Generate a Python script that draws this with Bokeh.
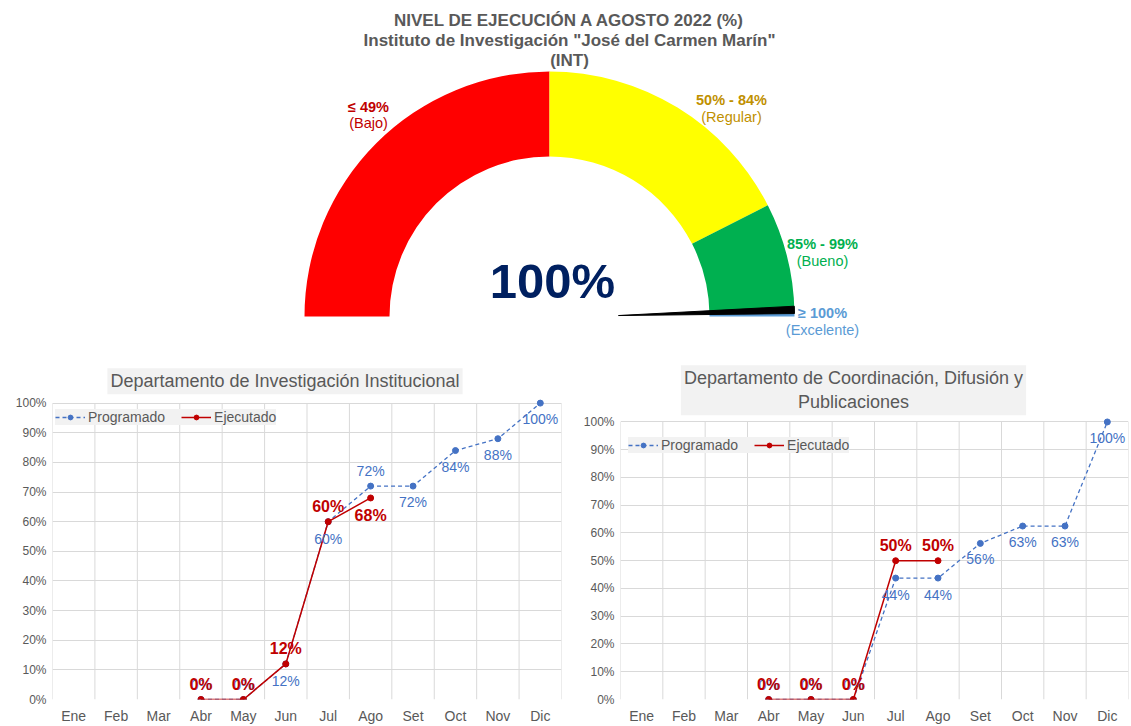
import numpy as np
from bokeh.plotting import figure
from bokeh.models import Range1d, FixedTicker, ColumnDataSource, Label
from bokeh.layouts import column, row
from bokeh.core.properties import value
from bokeh.embed import file_html
from bokeh.resources import INLINE

nan = float("nan")

# ---------------- data ----------------
months = ["Ene", "Feb", "Mar", "Abr", "May", "Jun", "Jul", "Ago", "Set", "Oct", "Nov", "Dic"]

inv_programado = [nan, nan, nan, 0, 0, 12, 60, 72, 72, 84, 88, 100]
inv_ejecutado = [nan, nan, nan, 0, 0, 12, 60, 68, nan, nan, nan, nan]

dif_programado = [nan, nan, nan, 0, 0, 0, 43.75, 43.75, 56.25, 62.5, 62.5, 100]
dif_ejecutado = [nan, nan, nan, 0, 0, 0, 50, 50, nan, nan, nan, nan]

gauge_bounds = [0, 50, 85, 99.6, 100]
gauge_colors = ["#FF0000", "#FFFF00", "#00B050", "#5B9BD5"]
gauge_range_labels = ["≤ 49%", "50% - 84%", "85% - 99%", "≥ 100%"]
gauge_range_names = ["(Bajo)", "(Regular)", "(Bueno)", "(Excelente)"]
gauge_label_colors = ["#C00000", "#BF9000", "#00B050", "#5B9BD5"]
kpi_value = 100

title_lines = ["NIVEL DE EJECUCIÓN A AGOSTO 2022 (%)",
               "Instituto de Investigación \"José del Carmen Marín\"",
               "(INT)"]
title_inv = "Departamento de Investigación Institucional"
title_dif = "Departamento de Coordinación, Difusión y\nPublicaciones"

FONT = "Liberation Sans"
GRAY = "#595959"
BLUE = "#4472C4"
RED = "#C00000"
GRID = "#D9D9D9"

# ---------------- gauge ----------------
GW, GH = 1131, 353
g = figure(width=GW, height=GH, x_range=Range1d(0, GW), y_range=Range1d(0, GH),
           output_backend="svg", toolbar_location=None, min_border=0, title=None)
g.axis.visible = False
g.grid.visible = False
g.outline_line_color = None

cx, cy = 549, 37
r_out, r_in = 245, 160


def ang(v):
    return np.pi * (1 - v / 100.0)


starts = [ang(b) for b in gauge_bounds[1:]]
ends = [ang(b) for b in gauge_bounds[:-1]]
g.annular_wedge(x=cx, y=cy, inner_radius=r_in, outer_radius=r_out,
                start_angle=starts, end_angle=ends, color=gauge_colors,
                line_color=None)

# needle
a0 = ang(kpi_value)
tip_r = 69
nx = [cx + tip_r * np.cos(a0 + 0.014), cx + r_out * np.cos(a0 + 0.012),
      cx + r_out * np.cos(a0 + 0.042)]
ny = [cy + tip_r * np.sin(a0 + 0.014), cy + r_out * np.sin(a0 + 0.012),
      cy + r_out * np.sin(a0 + 0.042)]
g.patch(x=nx, y=ny, fill_color="black", line_color="black", line_width=1)

# titles
g.text(x=[569, 569, 569], y=[333, 313, 293], text=title_lines,
       text_font=value(FONT), text_font_style="bold", text_font_size="17px",
       text_color=GRAY, text_align="center", text_baseline="middle")

# range labels
lx = [368, 731, 822, 822]
ly_top = [247, 254, 110, 41]
ly_bot = [231, 237, 93, 24]
g.text(x=lx, y=ly_top, text=gauge_range_labels, text_font=value(FONT),
       text_font_style="bold", text_font_size="14.5px", text_color=gauge_label_colors,
       text_align="center", text_baseline="middle")
g.text(x=lx, y=ly_bot, text=gauge_range_names, text_font=value(FONT),
       text_font_size="14.5px", text_color=gauge_label_colors,
       text_align="center", text_baseline="middle")

g.text(x=[552], y=[73], text=[f"{kpi_value}%"], text_font=value(FONT),
       text_font_style="bold", text_font_size="49px", text_color="#002060",
       text_align="center", text_baseline="middle")

# ---------------- line charts ----------------
LOWER_TOP = GH            # page y where lower charts start
LOWER_H = 726 - GH
FRAME_TOP = 360           # page y of frame top (both charts)
FRAME_BOTTOM = 702        # page y of 0%
FRAME_PX = FRAME_BOTTOM - FRAME_TOP


def pct(v):
    # Excel-style rounding (half up)
    return f"{int(np.floor(v + 0.5))}%"


def line_chart(title, prog, ejec, width, border_left, border_right, top100_px,
               title_px, title_dx, prog_off, ejec_off, legend_loc):
    ymax = 100.0 * FRAME_PX / (FRAME_BOTTOM - top100_px)
    p = figure(width=width, height=LOWER_H, x_range=Range1d(0.5, 12.5),
               y_range=Range1d(0, ymax), output_backend="svg",
               toolbar_location=None, min_border_left=border_left,
               min_border_right=border_right, min_border_top=FRAME_TOP - LOWER_TOP,
               min_border_bottom=726 - FRAME_BOTTOM, title=None)
    p.outline_line_color = None

    x = list(range(1, 13))
    p.xaxis.ticker = FixedTicker(ticks=x)
    p.xaxis.major_label_overrides = {i + 1: m for i, m in enumerate(months)}
    yt = list(range(0, 101, 10))
    p.yaxis.ticker = FixedTicker(ticks=yt)
    p.yaxis.major_label_overrides = {v: f"{v}%" for v in yt}
    for ax in (p.xaxis, p.yaxis):
        ax.axis_line_color = None
        ax.major_tick_line_color = None
        ax.minor_tick_line_color = None
        ax.major_tick_in = 0
        ax.major_tick_out = 0
        ax.major_label_text_font = FONT
        ax.major_label_text_color = GRAY
    p.xaxis.major_label_text_font_size = "14px"
    p.yaxis.major_label_text_font_size = "12px"
    p.xaxis.major_label_standoff = 8
    p.yaxis.major_label_standoff = 6
    p.xgrid.visible = False
    p.ygrid.ticker = FixedTicker(ticks=yt)
    p.ygrid.grid_line_color = GRID

    bounds = [i + 0.5 for i in range(0, 13)]
    p.segment(x0=bounds, y0=0, x1=bounds, y1=100, line_color=GRID, line_width=1)

    p.line(x, prog, line_color=BLUE, line_width=1.3, line_dash="4 3",
           legend_label="Programado")
    p.scatter(x, prog, size=6, fill_color=BLUE, line_color=BLUE,
              legend_label="Programado")
    p.line(x, ejec, line_color=RED, line_width=1.5, legend_label="Ejecutado")
    p.scatter(x, ejec, size=6, fill_color=RED, line_color=RED,
              legend_label="Ejecutado")

    bx = [xi for xi, v in zip(x, prog) if not np.isnan(v)]
    bv = [v for v in prog if not np.isnan(v)]
    bsrc = ColumnDataSource(dict(x=bx, y=bv, t=[pct(v) for v in bv], off=prog_off))
    p.text(x="x", y="y", text="t", y_offset="off", source=bsrc,
           text_font=value(FONT), text_font_size="14px", text_color=BLUE,
           text_align="center", text_baseline="middle")
    rx = [xi for xi, v in zip(x, ejec) if not np.isnan(v)]
    rv = [v for v in ejec if not np.isnan(v)]
    rsrc = ColumnDataSource(dict(x=rx, y=rv, t=[pct(v) for v in rv], off=ejec_off))
    p.text(x="x", y="y", text="t", y_offset="off", source=rsrc,
           text_font=value(FONT), text_font_size="16px", text_font_style="bold",
           text_color=RED, text_align="center", text_baseline="middle")

    # chart title
    ty = (FRAME_BOTTOM - title_px) * ymax / FRAME_PX
    lab = Label(x=6.5, y=ty, text=title, x_offset=title_dx, text_font=FONT,
                text_font_size="18px", text_color=GRAY, text_align="center",
                text_baseline="middle", background_fill_color="#F2F2F2",
                background_fill_alpha=1)
    if "padding" in lab.properties():
        lab.padding = 3
    p.add_layout(lab)

    lg = p.legend[0]
    lg.orientation = "horizontal"
    lg.location = legend_loc
    lg.background_fill_color = "#F2F2F2"
    lg.background_fill_alpha = 1
    lg.border_line_color = None
    lg.label_text_font = FONT
    lg.label_text_font_size = "14px"
    lg.label_text_color = GRAY
    lg.glyph_width = 30
    lg.glyph_height = 12
    lg.label_standoff = 3
    lg.spacing = 16
    lg.padding = 3
    lg.margin = 0
    lg.label_height = 15
    return p


p1 = line_chart(title_inv, inv_programado, inv_ejecutado, 565, 52, 4, 403, 381, -22,
                [-15, -15, 17, 17, -15, 16, 16, 16, 16],
                [-15, -15, -15, -15, 18], (3, 274))
p2 = line_chart(title_dif, dif_programado, dif_ejecutado, 566, 55, 3, 422, 390, -21,
                [-15, -15, -15, 17, 17, 16, 16, 16, 16],
                [-15, -15, -15, -15, -15], (8, 246))

layout = column(g, row(p1, p2))
open("out.html", "w").write(file_html(layout, INLINE))
